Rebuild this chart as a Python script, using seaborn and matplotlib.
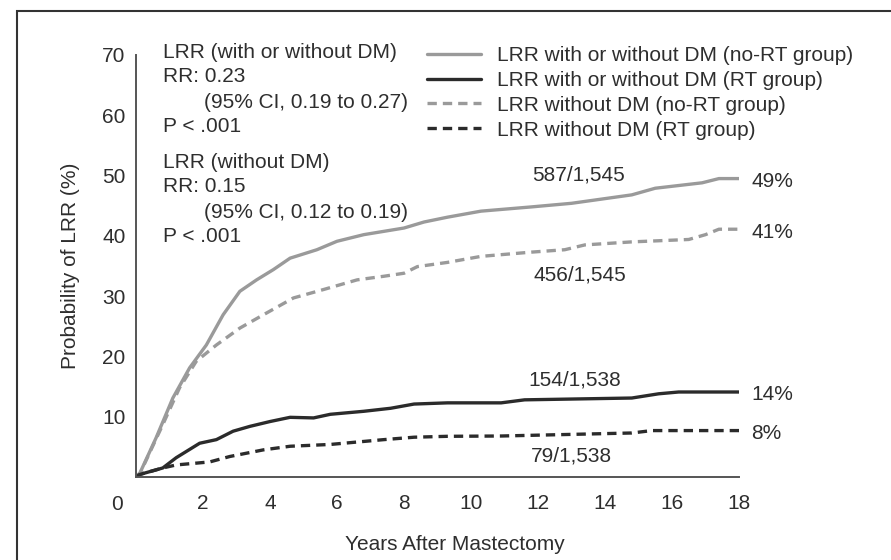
import numpy as np
import pandas as pd
import matplotlib
matplotlib.use("Agg")
import matplotlib.pyplot as plt
from matplotlib.patches import Rectangle
import seaborn as sns

# ---- data ----
yrs_norT_all = [0, 0.12, 0.6, 1.1, 1.6, 2.1, 2.6, 3.1, 3.6, 4.1, 4.6, 5.4, 6.0, 6.8, 8.0, 8.6, 9.3,
                10.3, 11.8, 13.0, 14.8, 15.5, 16.9, 17.4, 18.0]
val_norT_all = [0, 0.7, 6.5, 13.1, 18.1, 21.9, 26.9, 30.8, 32.7, 34.4, 36.3, 37.7, 39.1, 40.2, 41.3, 42.3, 43.1,
                44.1, 44.8, 45.4, 46.8, 47.9, 48.8, 49.5, 49.5]

yrs_rt_all = [0, 0.1, 0.8, 1.2, 1.9, 2.4, 2.9, 3.4, 4.0, 4.6, 5.3, 5.8, 6.8, 7.6, 8.3, 9.3,
              10.9, 11.6, 14.8, 15.6, 16.2, 18.0]
val_rt_all = [0, 0.4, 1.5, 3.2, 5.6, 6.2, 7.6, 8.4, 9.2, 9.9, 9.8, 10.4, 10.9, 11.4, 12.1, 12.3,
              12.3, 12.8, 13.1, 13.8, 14.1, 14.1]

yrs_norT_nodm = [0, 0.12, 0.8, 1.3, 1.8, 2.4, 3.1, 3.8, 4.7, 5.6, 6.6, 7.4, 8.0, 8.4, 9.3,
                 10.3, 11.8, 12.8, 13.4, 14.8, 16.5, 17.0, 17.4, 18.0]
val_norT_nodm = [0, 0.6, 8.7, 14.8, 19.2, 21.9, 24.7, 26.9, 29.7, 31.1, 32.7, 33.3, 33.8, 34.9, 35.6,
                 36.6, 37.3, 37.7, 38.5, 39.0, 39.4, 40.2, 41.1, 41.1]

yrs_rt_nodm = [0, 0.1, 0.8, 1.2, 2.2, 2.8, 3.8, 4.6, 5.8, 7.4, 8.3, 9.3, 10.9, 14.8, 15.4, 18.0]
val_rt_nodm = [0, 0.4, 1.5, 2.0, 2.5, 3.4, 4.5, 5.1, 5.4, 6.2, 6.6, 6.75, 6.8, 7.3, 7.7, 7.7]

series_labels = ["LRR with or without DM (no-RT group)",
                 "LRR with or without DM (RT group)",
                 "LRR without DM (no-RT group)",
                 "LRR without DM (RT group)"]
end_pct = ["49%", "14%", "41%", "8%"]
count_labels = ["587/1,545", "154/1,538", "456/1,545", "79/1,538"]
count_pos_x = [13.2, 13.1, 13.25, 13.0]
count_pos_y = [50.1, 16.1, 33.5, 3.5]

x_ticks = [2, 4, 6, 8, 10, 12, 14, 16, 18]
y_ticks = [10, 20, 30, 40, 50, 60, 70]

# ---- styling ----
sns.set_style("white")
plt.rcParams["font.family"] = ["Liberation Sans", "DejaVu Sans"]
FS = 15
TXT = "#2e2e2e"
GRAY = "#9a9a9a"
DARK = "#2b2b2b"
colors = [GRAY, DARK, GRAY, DARK]
dashed = [False, False, True, True]

W, H = 891, 560
fig = plt.figure(figsize=(W / 100, H / 100), dpi=100)

def fx(px):
    return px / W

def fy(py):
    return 1 - py / H

ax = fig.add_axes([fx(136), fy(477), fx(739) - fx(136), fy(55) - fy(477)])

xs = [yrs_norT_all, yrs_rt_all, yrs_norT_nodm, yrs_rt_nodm]
ys = [val_norT_all, val_rt_all, val_norT_nodm, val_rt_nodm]
frames = []
for lab, x, y in zip(series_labels, xs, ys):
    frames.append(pd.DataFrame({"Years": x, "Prob": y, "Series": lab}))
df = pd.concat(frames, ignore_index=True)

for i, lab in enumerate(series_labels):
    sub = df[df["Series"] == lab]
    sns.lineplot(data=sub, x="Years", y="Prob", ax=ax, color=colors[i], lw=2.4,
                 label=lab, estimator=None, sort=False)
    if dashed[i]:
        ax.lines[-1].set_dashes((2.8, 1.8))

ax.set_xlim(0, 18)
ax.set_ylim(0, 70)
ax.set_xticks(x_ticks)
ax.set_yticks(y_ticks)
ax.tick_params(axis="both", direction="out", length=4.5, width=1.2, color="#555555",
               labelsize=FS, labelcolor=TXT)
ax.tick_params(axis="x", pad=8)
ax.tick_params(axis="y", pad=3)
for s in ["top", "right"]:
    ax.spines[s].set_visible(False)
for s in ["left", "bottom"]:
    ax.spines[s].set_color("#555555")
    ax.spines[s].set_linewidth(1.4)

ax.set_xlabel("")
ax.set_ylabel("")
fig.text(fx(455), fy(545), "Years After Mastectomy", ha="center", va="center",
         fontsize=FS, color=TXT)
fig.text(fx(70), fy(266), "Probability of LRR (%)", ha="center", va="center",
         rotation=90, fontsize=FS, color=TXT)
fig.text(fx(117), fy(505), "0", ha="center", va="center", fontsize=FS, color=TXT)

# stats annotation block
lines_block = [("LRR (with or without DM)", 163, 52),
               ("RR: 0.23", 163, 77),
               ("(95% CI, 0.19 to 0.27)", 204, 102),
               ("P < .001", 163, 127),
               ("LRR (without DM)", 163, 162),
               ("RR: 0.15", 163, 187),
               ("(95% CI, 0.12 to 0.19)", 204, 212),
               ("P < .001", 163, 237)]
for t, px, py in lines_block:
    fig.text(fx(px), fy(py), t, ha="left", va="center", fontsize=FS, color=TXT)

# end percentages and counts
for i in range(4):
    ax.annotate(end_pct[i], xy=(18, ys[i][-1]), xytext=(9, -2), textcoords="offset points",
                ha="left", va="center", fontsize=FS, color=TXT, annotation_clip=False)
    ax.text(count_pos_x[i], count_pos_y[i], count_labels[i], ha="center", va="center",
            fontsize=FS, color=TXT)

leg = ax.legend(loc="upper left", bbox_to_anchor=(fx(427), fy(46)), bbox_transform=fig.transFigure,
                frameon=False, fontsize=FS, handlelength=2.6, handletextpad=0.75,
                labelspacing=0.28, borderpad=0, borderaxespad=0)
for t in leg.get_texts():
    t.set_color(TXT)

# outer frame (right and bottom edges lie outside the image)
fig.patches.append(Rectangle((fx(17), fy(580)), fx(910) - fx(17), fy(11) - fy(580),
                             transform=fig.transFigure, fill=False, edgecolor="#333333",
                             linewidth=1.5))

fig.savefig("out.png", dpi=100)
